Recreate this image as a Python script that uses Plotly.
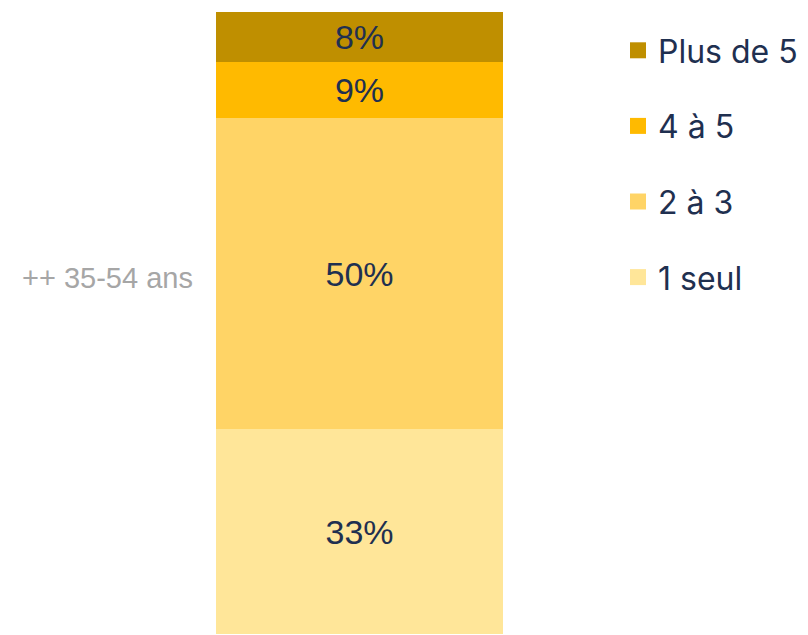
import plotly.graph_objects as go

category = ["++ 35-54 ans"]
series_names = ["1 seul", "2 à 3", "4 à 5", "Plus de 5"]
series_values = [[33], [50], [9], [8]]
colors = ["#FFE699", "#FFD466", "#FFBA00", "#BF8F00"]

fig = go.Figure()
for name, vals, col in zip(series_names, series_values, colors):
    fig.add_trace(go.Bar(
        x=category, y=vals, name=name, marker=dict(color=col, line=dict(width=0)),
        text=[f"{v}%" for v in vals], textposition="inside", insidetextanchor="middle",
        textfont=dict(family="Liberation Sans, Arial", size=34, color="#1F3050"),
        showlegend=False, hoverinfo="skip",
    ))
for name, col in reversed(list(zip(series_names, colors))):
    fig.add_trace(go.Scatter(
        x=[None], y=[None], mode="markers", name=name,
        marker=dict(symbol="square", size=16, color=col), legendgroup=name,
    ))

fig.add_annotation(
    text=category[0], xref="paper", yref="paper", x=-21/287, y=(634 - 278) / 622,
    xanchor="right", yanchor="middle", showarrow=False,
    font=dict(family="Liberation Sans, Arial", size=29, color="#A6A6A6"),
)

fig.update_layout(
    width=808, height=635,
    barmode="stack", bargap=0,
    margin=dict(l=208, r=313, t=4, b=9),
    paper_bgcolor="white", plot_bgcolor="white",
    xaxis=dict(visible=False, type="category"),
    yaxis=dict(range=[0, 100], visible=False),
    legend=dict(xref="container", yref="container", x=610/808, y=1 - 15/635,
                xanchor="left", yanchor="top", traceorder="grouped",
                tracegroupgap=31, itemsizing="trace",
                font=dict(family="Inter", size=32, color="#1F3050")),
)
fig.write_html("out.html")
